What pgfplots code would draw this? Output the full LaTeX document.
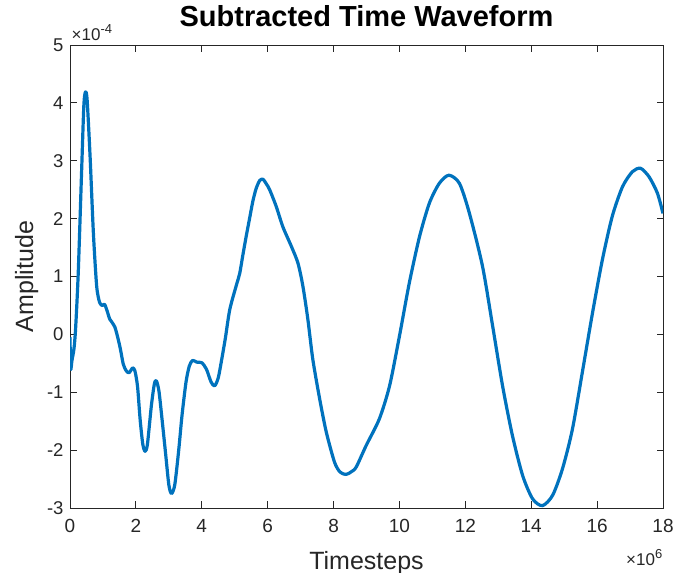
\documentclass[border=0pt]{standalone}
\usepackage{fontspec}
\setmainfont{Liberation Sans}
\usepackage{pgfplots}
\pgfplotsset{compat=1.18}
\definecolor{mblue}{RGB}{0,114,189}
\definecolor{mgray}{RGB}{38,38,38}
\begin{document}
\begin{tikzpicture}
\begin{axis}[
  at={(70pt,65pt)}, anchor=south west,
  scale only axis, width=593pt, height=463pt,
  xmin=0, xmax=18, ymin=-3, ymax=5,
  xtick={0,2,...,18}, ytick={-3,-2,...,5},
  xticklabels={0,2,4,6,8,10,12,14,16,18},
  yticklabels={-3,-2,-1,0,1,2,3,4,5},
  tick align=inside, major tick length=6.5pt,
  axis line style={mgray, line width=0.8pt},
  tick style={mgray, line width=0.8pt},
  xticklabel style={font=\fontsize{19}{21}\selectfont, text=mgray, yshift=-8pt},
  yticklabel style={font=\fontsize{18.5}{21}\selectfont, text=mgray, xshift=-3pt},
  title={Subtracted Time Waveform},
  title style={font=\fontsize{29}{32}\selectfont\bfseries, at={(axis description cs:0.5,1)}, anchor=base, yshift=13pt},
  xlabel={Timesteps},
  xlabel style={font=\fontsize{25}{28}\selectfont, text=mgray, at={(axis description cs:0.5,0)}, anchor=base, yshift=-61pt},
  ylabel={Amplitude},
  ylabel style={font=\fontsize{25}{28}\selectfont, text=mgray, at={(axis description cs:-0.0624,0.5)}, anchor=base},
  scaled ticks=false,
  clip mode=individual,
]
\addplot[mblue, line width=3.2pt, smooth, tension=0.45, line join=round] coordinates {
(0,-0.05) (0.02,-0.6) (0.06,-0.45) (0.12,-0.25) (0.17,0.1) (0.25,1.06)
(0.35,2.78) (0.42,3.95) (0.47,4.19) (0.52,4.05) (0.61,3.07) (0.71,1.75)
(0.81,0.83) (0.90,0.55) (0.98,0.50) (1.05,0.52) (1.13,0.40) (1.21,0.26)
(1.36,0.13) (1.51,-0.2) (1.62,-0.52) (1.72,-0.64) (1.80,-0.66) (1.90,-0.58)
(1.97,-0.63) (2.05,-0.9) (2.13,-1.48) (2.21,-1.9) (2.28,-2.02) (2.35,-1.9)
(2.47,-1.23) (2.56,-0.86) (2.62,-0.80) (2.70,-0.98) (2.80,-1.5) (2.90,-2.05)
(3.00,-2.6) (3.08,-2.75) (3.18,-2.6) (3.30,-2.0) (3.40,-1.4) (3.52,-0.83)
(3.62,-0.55) (3.72,-0.45) (3.85,-0.48) (4.00,-0.49) (4.14,-0.6) (4.28,-0.82)
(4.39,-0.89) (4.50,-0.75) (4.60,-0.45) (4.72,-0.05) (4.85,0.43) (5.05,0.85)
(5.15,1.05) (5.25,1.38) (5.35,1.7) (5.45,2.0) (5.55,2.3) (5.65,2.52)
(5.76,2.66) (5.86,2.68) (5.96,2.6) (6.06,2.50) (6.26,2.21) (6.46,1.86)
(6.72,1.52) (6.92,1.23) (7.07,0.83) (7.22,0.26) (7.37,-0.43) (7.58,-1.12)
(7.78,-1.69) (8.03,-2.21) (8.20,-2.38) (8.38,-2.42) (8.55,-2.37) (8.69,-2.29)
(8.99,-1.92) (9.39,-1.46) (9.70,-0.89) (10.0,-0.03) (10.30,0.89) (10.61,1.69)
(10.91,2.27) (11.21,2.61) (11.50,2.75) (11.82,2.61) (12.12,2.1) (12.52,1.18)
(12.83,0.14) (13.13,-0.89) (13.43,-1.75) (13.74,-2.44) (14.04,-2.84) (14.34,-2.96)
(14.65,-2.78) (14.95,-2.32) (15.25,-1.64) (15.55,-0.66) (15.86,0.37) (16.16,1.29)
(16.46,2.04) (16.77,2.55) (17.07,2.81) (17.32,2.87) (17.58,2.72) (17.83,2.44)
(18.0,2.09)
};
\node[anchor=base west, text=mgray, inner sep=0pt, xshift=1.5pt, yshift=5pt] at (rel axis cs:0,1) {\fontsize{17}{19}\selectfont ×10\textsuperscript{\fontsize{13}{14}\selectfont -4}};
\node[anchor=base east, text=mgray, inner sep=0pt, yshift=-57pt] at (rel axis cs:1,0) {\fontsize{17}{19}\selectfont ×10\textsuperscript{\fontsize{13}{14}\selectfont 6}};
\end{axis}
\pgfresetboundingbox
\path[use as bounding box] (0,0) rectangle (675pt,573pt);
\end{tikzpicture}
\end{document}
